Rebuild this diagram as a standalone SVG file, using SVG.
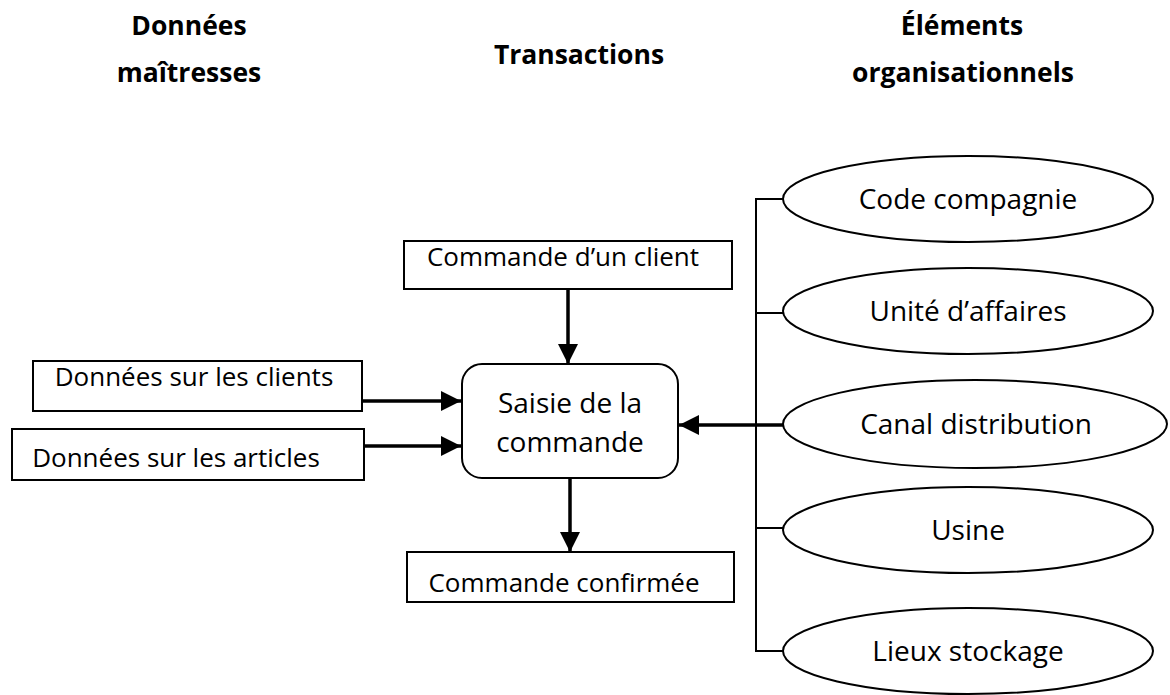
<svg xmlns="http://www.w3.org/2000/svg" width="1170" height="695" viewBox="0 0 1170 695">
  <defs>
    <marker id="arrow" markerUnits="userSpaceOnUse" markerWidth="20" markerHeight="20" viewBox="0 0 20 20" refX="20" refY="10" orient="auto">
      <path d="M0,0 L20,10 L0,20 Z" fill="#000"/>
    </marker>
    <style>
      .head { font-family: "Open Sans", "Liberation Sans", sans-serif; font-weight: bold; font-size: 26.5px; fill: #000; text-anchor: middle; }
      .lbl { font-family: "Open Sans", "Liberation Sans", sans-serif; font-size: 26px; fill: #000; text-anchor: middle; }
      .big { font-size: 28px; }
      .box { fill: #fff; stroke: #000; stroke-width: 2; }
      .thin { fill: none; stroke: #000; stroke-width: 2; }
      .flow { fill: none; stroke: #000; stroke-width: 3.5; marker-end: url(#arrow); }
    </style>
  </defs>
  <rect width="1170" height="695" fill="#fff"/>

  <!-- column headings -->
  <g id="headings">
    <text class="head" x="189" y="35">Données</text>
    <text class="head" x="189" y="82">maîtresses</text>
    <text class="head" x="579" y="64">Transactions</text>
    <text class="head" x="962" y="35">Éléments</text>
    <text class="head" x="963" y="82">organisationnels</text>
  </g>

  <!-- connectors -->
  <g id="connectors">
    <path class="thin" d="M783,199 H756 V651 H783 M756,313 H783 M756,528 H783"/>
    <path class="flow" d="M568,289 V364"/>
    <path class="flow" d="M362,401 H461"/>
    <path class="flow" d="M364,446 H461"/>
    <path class="flow" d="M570,478 V552"/>
    <path class="flow" d="M783,425 H679"/>
  </g>

  <g id="commande-client">
    <rect class="box" x="404" y="241" width="328" height="48"/>
    <text class="lbl" x="563" y="266">Commande d’un client</text>
  </g>

  <g id="donnees-clients">
    <rect class="box" x="33" y="361" width="329" height="50"/>
    <text class="lbl" x="194" y="386">Données sur les clients</text>
  </g>

  <g id="donnees-articles">
    <rect class="box" x="12" y="429" width="352" height="51"/>
    <text class="lbl" x="176" y="467">Données sur les articles</text>
  </g>

  <g id="saisie">
    <rect class="box" x="462" y="364" width="216" height="114" rx="20" ry="20"/>
    <text class="lbl big" x="570" y="413">Saisie de la</text>
    <text class="lbl big" x="570" y="452">commande</text>
  </g>

  <g id="commande-confirmee">
    <rect class="box" x="407" y="552" width="327" height="50"/>
    <text class="lbl" x="564" y="592">Commande confirmée</text>
  </g>

  <g id="code-compagnie">
    <ellipse class="box" cx="968" cy="199" rx="185" ry="43"/>
    <text class="lbl big" x="968" y="209">Code compagnie</text>
  </g>

  <g id="unite-affaires">
    <ellipse class="box" cx="968" cy="311" rx="185" ry="43"/>
    <text class="lbl big" x="968" y="321">Unité d’affaires</text>
  </g>

  <g id="canal-distribution">
    <ellipse class="box" cx="975" cy="424" rx="192" ry="44"/>
    <text class="lbl big" x="976" y="434">Canal distribution</text>
  </g>

  <g id="usine">
    <ellipse class="box" cx="968" cy="530" rx="185" ry="43"/>
    <text class="lbl big" x="968" y="540">Usine</text>
  </g>

  <g id="lieux-stockage">
    <ellipse class="box" cx="968" cy="651" rx="185" ry="43"/>
    <text class="lbl big" x="968" y="661">Lieux stockage</text>
  </g>
</svg>
